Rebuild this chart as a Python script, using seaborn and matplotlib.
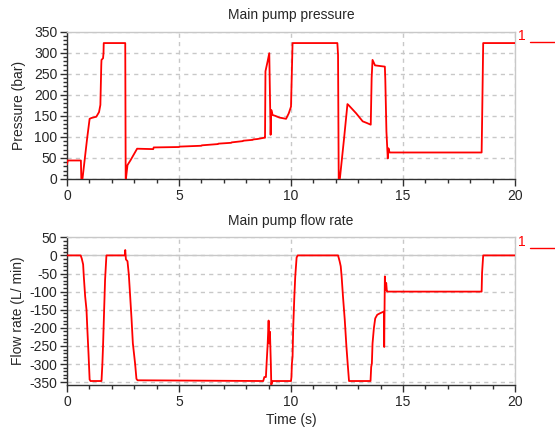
import matplotlib
matplotlib.use("Agg")
import matplotlib.pyplot as plt
from matplotlib.lines import Line2D
from matplotlib.ticker import MultipleLocator
import seaborn as sns
import pandas as pd

# ---- data ----
time_p = [0, 0.03, 0.62, 0.64, 0.69, 0.90, 1.01, 1.09, 1.31, 1.43, 1.49, 1.53, 1.54, 1.61, 1.63, 1.64,
          2.60, 2.62, 2.63, 2.70, 2.84, 3.13, 3.85, 3.87, 5.0, 5.04, 6.0, 6.02, 6.74, 6.76, 7.33, 7.35,
          7.85, 7.87, 8.29, 8.31, 8.5, 8.8, 8.84, 8.86, 8.95, 9.03, 9.06, 9.09, 9.12, 9.18, 9.30, 9.48,
          9.78, 9.90, 10.0, 10.07, 12.07, 12.10, 12.13, 12.18, 12.37, 12.52, 12.58, 12.91, 13.2, 13.39,
          13.56, 13.60, 13.64, 13.75, 14.19, 14.21, 14.26, 14.32, 14.35, 14.40, 18.51, 18.53, 18.58, 20]
pressure = [35, 44, 44, 0, 0, 97, 143, 145, 148, 159, 176, 270, 283, 287, 300, 323,
            323, 0, 0, 33, 45, 72, 71, 75, 76, 77, 79, 80, 83, 84, 86, 87,
            90, 91, 93, 94, 95, 98, 98, 256, 278, 299, 200, 105, 164, 152, 150, 146,
            143, 156, 172, 323, 323, 295, 0, 0, 97, 178, 175, 156, 137, 133,
            129, 240, 283, 270, 267, 236, 113, 49, 73, 63, 63, 132, 323, 323]

time_f = [0, 0.61, 0.66, 0.72, 0.75, 0.81, 0.87, 0.91, 0.96, 1.01, 1.05, 1.54, 1.58, 1.61, 1.66, 1.70,
          1.76, 2.58, 2.60, 2.63, 2.70, 2.76, 2.82, 2.88, 2.94, 3.04, 3.10, 3.15, 8.76, 8.81, 8.88, 8.91,
          8.96, 9.0, 9.03, 9.06, 9.10, 9.12, 9.18, 10.0, 10.02, 10.04, 10.07, 10.10, 10.15, 10.19, 10.25,
          10.30, 12.10, 12.17, 12.22, 12.26, 12.32, 12.40, 12.47, 12.53, 12.59, 13.55, 13.58, 13.61, 13.64,
          13.70, 13.76, 13.85, 13.97, 14.15, 14.16, 14.19, 14.22, 14.25, 14.28, 14.32, 18.51, 18.53, 18.58, 20]
flow = [0, 0, -9, -25, -58, -113, -150, -206, -271, -343, -347, -347, -299, -248, -146, -67,
        0, 0, 15, -11, -16, -53, -113, -174, -243, -299, -341, -345, -347, -336, -336, -299,
        -243, -180, -243, -211, -299, -357, -347, -347, -336, -299, -280, -197, -113, -58, -6,
        0, 0, -16, -30, -58, -113, -178, -248, -299, -347, -347, -308, -299, -243,
        -201, -174, -164, -160, -155, -253, -58, -95, -76, -99, -100, -100, -48, 0, 0]

titles = ["Main pump pressure", "Main pump flow rate"]
ylabels = ["Pressure (bar)", "Flow rate (L/ min)"]
xlabel = "Time (s)"
legend_label = "1"

sns.set_style("white")
plt.rcParams['font.family'] = ['Liberation Sans', 'DejaVu Sans']
plt.rcParams['axes.unicode_minus'] = False
plt.rcParams['font.size'] = 10

fig = plt.figure(figsize=(5.55, 4.30), dpi=100)
ax1 = fig.add_axes([67 / 555, 1 - 179 / 430, 448 / 555, 147.3 / 430])
ax2 = fig.add_axes([67 / 555, 1 - 385 / 430, 448 / 555, 147.7 / 430])

df_p = pd.DataFrame({"t": time_p, "v": pressure})
df_f = pd.DataFrame({"t": time_f, "v": flow})

grid_c = "#c8c8c8"
dark = "#303030"
for ax, df, title, ylab, ylim, lp in [(ax1, df_p, titles[0], ylabels[0], (0, 350), 6),
                                      (ax2, df_f, titles[1], ylabels[1], (-358, 50), 3)]:
    sns.lineplot(data=df, x="t", y="v", ax=ax, sort=False, estimator=None,
                 color="#ff0000", lw=1.3, legend=False, zorder=3)
    ax.set_xlim(0, 20)
    ax.set_ylim(*ylim)
    ax.xaxis.set_major_locator(MultipleLocator(5))
    ax.xaxis.set_minor_locator(MultipleLocator(1))
    ax.yaxis.set_major_locator(MultipleLocator(50))
    ax.yaxis.set_minor_locator(MultipleLocator(10))
    ax.grid(True, which="major", color=grid_c, ls=(0, (3, 3)), lw=1)
    ax.set_axisbelow(True)
    ax.tick_params(axis="both", which="major", direction="out", length=5, width=1,
                   color=dark, labelsize=10, pad=2, left=True, bottom=True)
    ax.tick_params(axis="both", which="minor", direction="out", length=3, width=1,
                   color=dark, left=True, bottom=True)
    for s in ["left", "bottom"]:
        ax.spines[s].set_color(dark)
        ax.spines[s].set_linewidth(1)
    for s in ["top", "right"]:
        ax.spines[s].set_color(grid_c)
        ax.spines[s].set_linewidth(1)
    ax.set_title(title, fontsize=10, pad=9)
    ax.set_ylabel(ylab, fontsize=10, labelpad=lp)
    ax.set_xlabel("")

ax2.axhline(0, color=grid_c, lw=1, zorder=1)
ax2.set_xlabel(xlabel, fontsize=10, labelpad=3)

# legend entries to the right
for ytxt in [36, 242]:
    fig.text(518 / 555, 1 - ytxt / 430, legend_label, color="#ff0000", fontsize=10,
             ha="left", va="center")
    fig.add_artist(Line2D([530 / 555, 555 / 555], [1 - (ytxt + 6) / 430] * 2,
                          color="#ff0000", lw=1, transform=fig.transFigure))

fig.savefig("out.png", dpi=100)
